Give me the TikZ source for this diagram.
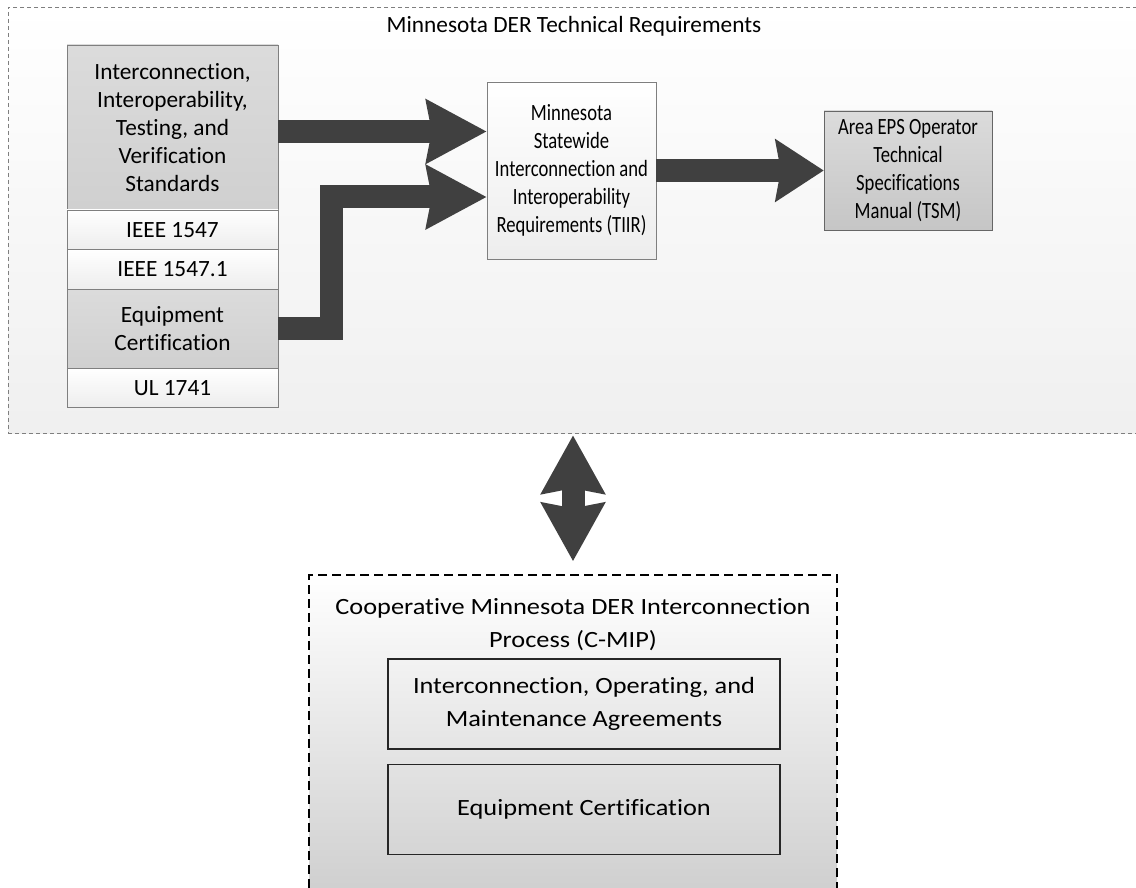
\documentclass[tikz,border=0pt]{standalone}
\usepackage{fontspec}
\setmainfont{Carlito}[Ligatures=CommonOff]
\newfontfamily\narrowfont[FakeStretch=0.8,Ligatures=CommonOff]{Carlito}
\newfontfamily\widefont[FakeStretch=1.13,Ligatures=CommonOff]{Carlito}
\usetikzlibrary{arrows.meta,positioning,shapes}
\definecolor{arrowgray}{HTML}{404040}
\definecolor{bordergray}{HTML}{7F7F7F}
\tikzset{
    %Define standard arrow tip
    >={Stealth[length=60pt,width=62pt,inset=5pt]},
    %Define style for group frames
    groupnode/.style={
             rectangle,
             draw=bordergray, thin,
             dash pattern=on 4pt off 3pt},
    %Define style for boxes
    graynode/.style={
             rectangle, align=center,
             draw=bordergray, outer sep=0pt,
             top color=gray!28, bottom color=gray!37,
             minimum width=211pt},
    whitenode/.style={
             rectangle, align=center,
             draw=bordergray, outer sep=0pt,
             top color=white, bottom color=gray!14,
             minimum width=211pt, minimum height=39.5pt},
    agreenode/.style={
             rectangle, align=center,
             draw=black!85, line width=1.4pt,
             minimum width=392pt, minimum height=90pt},
    % Define arrow style
    blockarrow/.style={
            ->,
            draw=arrowgray,
            line width=23pt}
}
\begin{document}
\begin{tikzpicture}[x=1pt, y=-1pt, font=\fontsize{23.3}{28}\selectfont]
 \clip (0,0) rectangle (1136,888);
 % technical requirements
 \node[groupnode, top color=white, bottom color=gray!12,
       minimum width=1132pt, minimum height=426pt] (der) at (574,220) {};
 \node[below=6pt of der.north] (dertitle) {Minnesota DER Technical Requirements};
 \node[graynode, minimum height=165pt] (std) at (172.5,127.5)
      {Interconnection,\\Interoperability,\\Testing, and\\Verification\\Standards};
 \node[whitenode, below=0pt of std] (ieee) {IEEE 1547};
 \node[whitenode, below=0pt of ieee] (ieeeone) {IEEE 1547.1};
 \node[graynode, minimum height=79pt, below=0pt of ieeeone] (equip) {Equipment\\Certification};
 \node[whitenode, below=0pt of equip] (ul) {UL 1741};
 \node[rectangle, align=center, draw=bordergray, top color=white, bottom color=gray!14,
       font=\narrowfont\fontsize{23.3}{28}\selectfont,
       minimum width=169pt, minimum height=177pt] (tiir) at (571.5,170.5)
      {Minnesota\\Statewide\\Interconnection and\\Interoperability\\Requirements (TIIR)};
 \node[rectangle, align=center, draw=black!60, top color=gray!28, bottom color=gray!45,
       font=\narrowfont\fontsize{23.3}{28}\selectfont,
       minimum width=168pt, minimum height=119pt] (tsm) at (908,170.5)
      {Area EPS Operator\\Technical\\Specifications\\Manual (TSM)};
 % interconnection process
 \node[rectangle, draw=black, line width=1.3pt, dash pattern=on 9pt off 5pt,
       top color=white, bottom color=gray!38,
       minimum width=528pt, minimum height=320pt] (cmip) at (573,735) {};
 \node[below=21pt of cmip.north, align=center, font=\widefont\fontsize{23.3}{33}\selectfont] (cmiptitle)
      {Cooperative Minnesota DER Interconnection\\Process (C-MIP)};
 \node[agreenode, font=\widefont\fontsize{23.3}{33}\selectfont] (agree) at (584,704)
      {Interconnection, Operating, and\\Maintenance Agreements};
 \node[agreenode, font=\widefont\fontsize{23.3}{33}\selectfont, below=14pt of agree] (cert)
      {Equipment Certification};
 \path[blockarrow] ([yshift=-4pt]std.east) -- ([yshift=-4pt]std.east -| tiir.west);
 \path[blockarrow] (equip.east) -- ++(53,0) |- ([yshift=-26.5pt]tiir.west);
 \path[blockarrow, -{Stealth[length=48pt,width=61pt,inset=5pt]}] (tiir.east) -- (tsm.west);
 \path[blockarrow, <->, >={Stealth[length=58pt,width=62pt,inset=5pt]},
       shorten <=2pt, shorten >=13pt] (cmip.north |- der.south) -- (cmip.north);
\end{tikzpicture}
\end{document}
